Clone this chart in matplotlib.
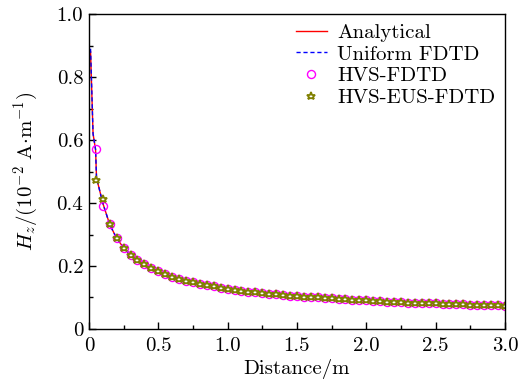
import numpy as np
import matplotlib
matplotlib.use("Agg")
import matplotlib.pyplot as plt
from matplotlib.ticker import MultipleLocator

plt.rcParams['font.family'] = ['cmr10', 'DejaVu Serif']
plt.rcParams['mathtext.fontset'] = 'cm'
plt.rcParams['axes.formatter.use_mathtext'] = True

# analytical / uniform FDTD curves
line_x = [0.012, 0.03, 0.048, 0.055, 0.1, 0.15, 0.2, 0.25, 0.3, 0.4, 0.5, 0.6,
          0.7, 0.8, 1.0, 1.25, 1.5, 1.75, 2.0, 2.25, 2.5, 2.75, 3.0]
analytical = [0.88, 0.62, 0.57, 0.48, 0.40, 0.332, 0.288, 0.258, 0.236, 0.205, 0.183, 0.166,
              0.153, 0.143, 0.128, 0.115, 0.105, 0.097, 0.091, 0.085, 0.081, 0.077, 0.074]
uniform = [0.89, 0.62, 0.57, 0.48, 0.40, 0.332, 0.288, 0.258, 0.236, 0.205, 0.183, 0.166,
           0.153, 0.143, 0.128, 0.115, 0.105, 0.097, 0.091, 0.085, 0.081, 0.077, 0.074]

# sampled solutions, every 0.05 m
dist = np.round(np.arange(1, 61) * 0.05, 2)
tail = [0.332, 0.288, 0.258, 0.236, 0.219, 0.205, 0.193, 0.183, 0.174, 0.166,
        0.159, 0.153, 0.148, 0.143, 0.139, 0.135, 0.131, 0.128, 0.125, 0.122,
        0.119, 0.117, 0.115, 0.112, 0.110, 0.108, 0.106, 0.105, 0.103, 0.101,
        0.100, 0.098, 0.097, 0.095, 0.094, 0.093, 0.092, 0.091, 0.089, 0.088,
        0.087, 0.086, 0.085, 0.084, 0.083, 0.083, 0.082, 0.081, 0.080, 0.079,
        0.079, 0.078, 0.077, 0.076, 0.076, 0.075, 0.075, 0.074]
hvs = [0.570, 0.390] + tail
hvs_eus = [0.473, 0.413] + tail

fig = plt.figure(figsize=(5.26, 3.85), dpi=100)
ax = fig.add_axes([0.169, 0.1455, 0.791, 0.818])

ax.plot(line_x, analytical, color='red', lw=1.0, label='Analytical')
ax.plot(line_x, uniform, color='blue', lw=1.0, ls=(0, (3, 2)), label='Uniform FDTD')
ax.plot(dist, hvs, ls='none', marker='o', ms=5.8, mfc='none', mec='#ff00ff', mew=1.0,
        label='HVS-FDTD')
ax.plot(dist, hvs_eus, ls='none', marker='*', ms=6.2, mfc='white', mec='#808000', mew=1.3,
        label='HVS-EUS-FDTD')

ax.set_xlim(0, 3.0)
ax.set_ylim(0, 1.0)
ax.xaxis.set_major_locator(MultipleLocator(0.5))
ax.xaxis.set_minor_locator(MultipleLocator(0.25))
ax.yaxis.set_major_locator(MultipleLocator(0.2))
ax.yaxis.set_minor_locator(MultipleLocator(0.1))
ax.xaxis.set_major_formatter(plt.FuncFormatter(lambda v, p: '0' if v == 0 else f'{v:.1f}'))
ax.yaxis.set_major_formatter(plt.FuncFormatter(lambda v, p: '0' if v == 0 else f'{v:.1f}'))
ax.tick_params(which='both', direction='in', top=False, right=False, labelsize=15, width=1)
ax.tick_params(which='major', length=5)
ax.tick_params(axis='x', which='major', pad=6)
ax.tick_params(axis='y', which='major', pad=4)
ax.tick_params(which='minor', length=3)
for s in ax.spines.values():
    s.set_linewidth(1.0)

ax.set_xlabel('Distance/m', fontsize=15, labelpad=3)
ax.set_ylabel(r'$H_z/(10^{-2}\ \mathrm{A{\cdot}m^{-1}})$', fontsize=15, labelpad=12)

ax.legend(loc='upper right', frameon=False, fontsize=15, handlelength=1.5,
          labelspacing=0.15, borderaxespad=0.15, handletextpad=0.5, borderpad=0.3)

fig.savefig('out.png', dpi=100)
